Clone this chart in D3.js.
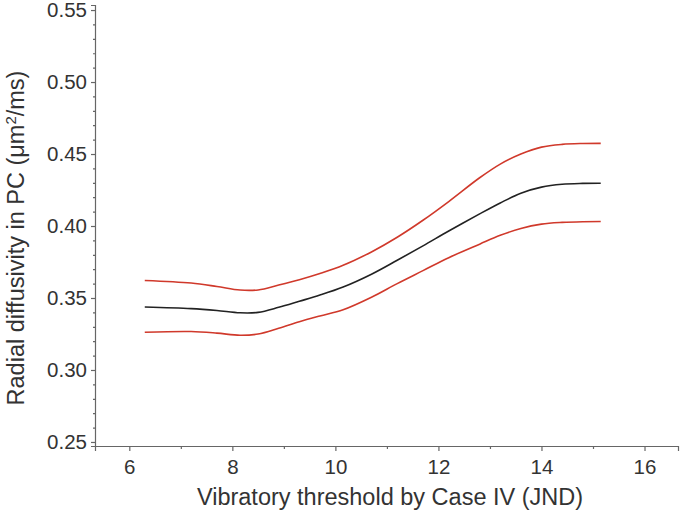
<!DOCTYPE html>
<html>
<head>
<meta charset="utf-8">
<script src="https://cdn.jsdelivr.net/npm/d3@7"></script>
<style>
  html, body { margin: 0; padding: 0; background: #fff; }
  svg { display: block; font-family: "Liberation Sans", Arial, Helvetica, sans-serif; }
</style>
</head>
<body>
<svg id="chart" width="680" height="514"></svg>
<script>
// ---- data ----
const xValues = [6.3, 7.2, 7.7, 8.15, 8.5, 8.9, 9.3, 9.7, 10.15, 10.7, 11.2, 11.7, 12.2, 12.8, 13.2, 13.6, 14.0, 14.4, 14.8, 15.15];
const fitValues = [0.3437, 0.3426, 0.3413, 0.3397, 0.3400, 0.3435, 0.3477, 0.3520, 0.3576, 0.3665, 0.3762, 0.3862, 0.3965, 0.4084, 0.4160, 0.4228, 0.4270, 0.4290, 0.4296, 0.4297];
const upperValues = [0.3622, 0.3604, 0.3580, 0.3555, 0.3556, 0.3590, 0.3627, 0.3670, 0.3727, 0.3820, 0.3922, 0.4040, 0.4170, 0.4335, 0.4430, 0.4500, 0.4548, 0.4567, 0.4573, 0.4574];
const lowerValues = [0.3262, 0.3267, 0.3256, 0.3241, 0.3250, 0.3290, 0.3335, 0.3375, 0.3418, 0.3505, 0.3600, 0.3690, 0.3780, 0.3874, 0.3935, 0.3983, 0.4013, 0.4025, 0.4030, 0.4031];
const xTickValues = [6, 8, 10, 12, 14, 16];
const xMinorTicks = [7, 9, 11, 13, 15];
const yTickValues = [0.25, 0.30, 0.35, 0.40, 0.45, 0.50, 0.55];
const xTitle = "Vibratory threshold by Case IV (JND)";

// ---- layout ----
const svg = d3.select("#chart");
const mLeft = 95, mRight = 678, mTop = 5, mBottom = 446;

const x = d3.scaleLinear().domain([5.334, 16.65]).range([mLeft, mRight]);
const y = d3.scaleLinear().domain([0.2472, 0.5535]).range([mBottom, mTop]);

const axisColor = "#666";
const textColor = "#333";

// y axis
svg.append("g").attr("transform", `translate(${mLeft},0)`)
  .call(d3.axisLeft(y).tickValues(yTickValues).tickFormat(d3.format(".2f")).tickSize(4).tickPadding(4));
const yMinor = d3.range(25, 56).map(v => v / 100).filter(v => Math.round(v * 100) % 5 !== 0);
svg.append("g").attr("transform", `translate(${mLeft},0)`)
  .call(d3.axisLeft(y).tickValues(yMinor).tickFormat("").tickSize(2))
  .call(g => g.select(".domain").remove());

// x axis
svg.append("g").attr("transform", `translate(0,${mBottom})`)
  .call(d3.axisBottom(x).tickValues(xTickValues).tickFormat(d3.format("d")).tickSize(5).tickPadding(8));
svg.append("g").attr("transform", `translate(0,${mBottom})`)
  .call(d3.axisBottom(x).tickValues(xMinorTicks).tickFormat("").tickSize(3))
  .call(g => g.select(".domain").remove());

svg.selectAll(".domain").attr("stroke", axisColor).attr("stroke-width", 1.2);
svg.selectAll(".tick line").attr("stroke", axisColor).attr("stroke-width", 1.2);
svg.selectAll(".tick text").attr("fill", textColor).style("font-size", "20.5px");

// titles
svg.append("text")
  .attr("x", 390).attr("y", 505)
  .attr("text-anchor", "middle")
  .attr("fill", textColor)
  .style("font-size", "23.5px")
  .text(xTitle);

const yt = svg.append("text")
  .attr("transform", "translate(24,238) rotate(-90)")
  .attr("text-anchor", "middle")
  .attr("fill", textColor)
  .style("font-size", "23.5px");
yt.append("tspan").text("Radial diffusivity in PC (μm");
yt.append("tspan").attr("baseline-shift", "super").style("font-size", "15px").text("2");
yt.append("tspan").text("/ms)");

// lines
const line = d3.line().x((d, i) => x(xValues[i])).y(d => y(d)).curve(d3.curveCatmullRom.alpha(0.5));
svg.append("path").datum(upperValues).attr("d", line).attr("fill", "none").attr("stroke", "#d0392b").attr("stroke-width", 1.6);
svg.append("path").datum(lowerValues).attr("d", line).attr("fill", "none").attr("stroke", "#d0392b").attr("stroke-width", 1.6);
svg.append("path").datum(fitValues).attr("d", line).attr("fill", "none").attr("stroke", "#222").attr("stroke-width", 1.6);
</script>
</body>
</html>
